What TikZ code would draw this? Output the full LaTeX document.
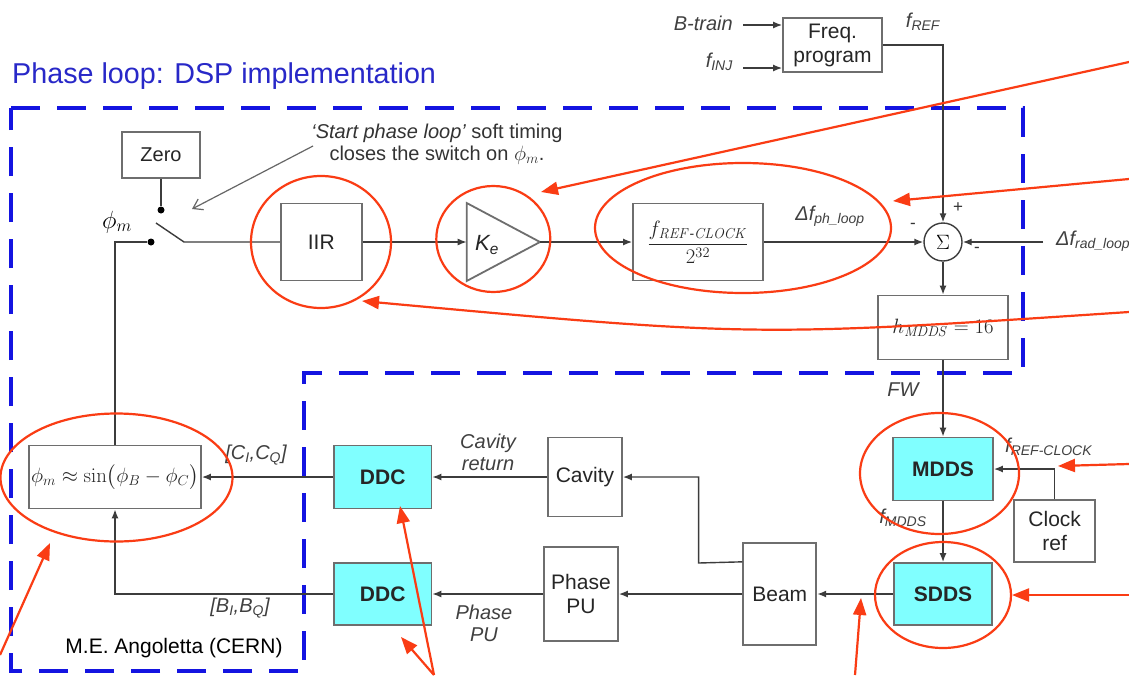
\documentclass[tikz,border=0pt]{standalone}
\usepackage{amsmath}
\usepackage[no-math]{fontspec}
\setmainfont{Liberation Sans}
\usetikzlibrary{arrows.meta,calc}
\definecolor{dblue}{RGB}{20,20,225}
\definecolor{tblue}{RGB}{40,40,200}
\definecolor{rred}{RGB}{250,60,20}
\definecolor{cyanf}{RGB}{128,255,255}
\definecolor{bordg}{RGB}{110,110,110}
\definecolor{wireg}{RGB}{60,60,60}
\begin{document}
\begin{tikzpicture}[x=1pt,y=-1pt,
 box/.style={draw=bordg, line width=1.8pt, fill=white, inner sep=0pt, align=center, font=\fontsize{21}{24}\selectfont, text=black!85},
 cbox/.style={box, fill=cyanf, font=\fontsize{21}{24}\selectfont\bfseries},
 wire/.style={draw=wireg, line width=1.4pt},
 arr/.style={wire, -{Latex[length=9pt,width=7pt]}},
 lbl/.style={font=\fontsize{20}{22}\selectfont\itshape, text=black!75, inner sep=0pt, align=center},
 sgn/.style={font=\fontsize{17}{18}\selectfont, text=black!80, inner sep=0pt},
 dotn/.style={circle, fill=black, inner sep=0pt, minimum size=7pt},
 ann/.style={draw=rred, line width=2.2pt},
 rarr/.style={ann, -{Triangle[length=17pt,width=13pt]}},
 ]
\useasboundingbox (0,0) rectangle (1129,675);
\fill[white] (0,0) rectangle (1129,675);

% DSP region
\draw[dblue, line width=4.5pt, dash pattern=on 29pt off 17pt]
  (11,108) -- (1023,108) -- (1023,373) -- (304,373) -- (304,671) -- (11,671) -- cycle;
\node[anchor=west, text=tblue, font=\fontsize{28.7}{32}\selectfont, inner sep=0pt] (title) at (12,76) {Phase loop: DSP implementation};

% top: frequency program
\node[box, minimum width=99pt, minimum height=54pt] (freq) at (832.5,45) {Freq.\\program};
\coordinate (bt) at (743,25);
\coordinate (fi) at (743,68);
\node[lbl, anchor=east] (btl) at (733,23) {B-train};
\node[lbl, anchor=east] (fil) at (733,62) {f\textsubscript{INJ}};
\draw[arr] (bt) -- (freq.west|-bt);
\draw[arr] (fi) -- (freq.west|-fi);
\node[lbl] (frefl) at (923,22) {f\textsubscript{REF}};

% summing junction
\node[draw=wireg, line width=1.4pt, circle, minimum size=38pt, inner sep=0pt, fill=white] (sig) at (943,242) {\fontsize{20}{20}\selectfont$\Sigma$};
\draw[arr] (freq.east) -| (sig.north);
\node[sgn] (plus) at (958,208) {+};
\node[sgn] (m1) at (913,226) {-};
\node[sgn] (m2) at (977,250) {-};
\node[lbl] (phl) at (830,216) {Δf\textsubscript{ph\_loop}};
\coordinate (radin) at (1043,242);
\node[lbl, anchor=west] (radl) at (1056,241) {Δf\textsubscript{rad\_loop}};
\draw[arr] (radin) -- (sig.east);

% forward chain
\node[box, minimum width=81pt, minimum height=77pt] (iir) at (321.3,242) {IIR};
\coordinate (keT) at (466.7,203);
\coordinate (keB) at (466.7,281);
\coordinate (keP) at (540,242);
\coordinate (keW) at (466.7,242);
\draw[draw=bordg, line width=1.8pt, fill=white] (keT) -- (keP) -- (keB) -- cycle;
\node[font=\fontsize{22}{24}\selectfont\itshape, text=black!85] (kel) at (487,245) {K\textsubscript{e}};
\node[box, minimum width=130pt, minimum height=77pt] (fclk) at (698,242) {\fontsize{20}{22}\selectfont$\displaystyle\frac{f_{\mathit{REF}\text{-}\mathit{CLOCK}}}{2^{32}}$};
\node[box, minimum width=130pt, minimum height=64pt, font=\fontsize{20}{22}\selectfont] (hbox) at (943,327.5) {$h_{\mathit{MDDS}}=16$};

% switch
\node[box, minimum width=78pt, minimum height=46pt, font=\fontsize{20}{22}\selectfont] (zero) at (161,155) {Zero};
\node[dotn] (dotA) at (161,210) {};
\node[dotn] (dotB) at (151,242) {};
\coordinate (sw1) at (156,223);
\coordinate (sw2) at (184,242);
\draw[wire] (zero.south) -- (dotA);
\draw[wire] (sw1) -- (sw2) -- (iir.west);
\node[font=\fontsize{24}{24}\selectfont] (phil) at (117,222) {$\phi_m$};

\draw[arr] (iir.east) -- (keW);
\draw[arr] (keP) -- (fclk.west);
\draw[arr] (fclk.east) -- (sig.west);
\draw[arr] (sig.south) -- (hbox.north);

% annotation text
\node[font=\fontsize{20}{22}\selectfont, text=black!80, align=center] (note) at (437,144) {{\itshape ‘Start phase loop’} soft timing\\closes the switch on $\phi_m$.};
\coordinate (noteA) at (313,146);
\coordinate (swtip) at (192,209);
\draw[draw=black!60, line width=1.2pt, -{Straight Barb[length=9pt,width=12pt]}] (noteA) -- (swtip);

% phase detector
\node[box, minimum width=172pt, minimum height=63pt, font=\fontsize{19.5}{21}\selectfont] (phi) at (115,477) {$\phi_m \approx \sin\bigl(\phi_B-\phi_C\bigr)$};
\draw[wire] (phi.north) |- (dotB);

% lower blocks
\node[cbox, minimum width=97.5pt, minimum height=63pt] (ddc1) at (382.7,477) {DDC};
\node[cbox, minimum width=97.5pt, minimum height=62pt] (ddc2) at (382.7,594) {DDC};
\node[box, minimum width=74pt, minimum height=79pt] (cav) at (585,477) {Cavity};
\node[box, minimum width=74pt, minimum height=94pt] (ppu) at (581,594) {Phase\\PU};
\node[box, minimum width=73pt, minimum height=102pt] (beam) at (779.8,594) {Beam};
\node[cbox, minimum width=100pt, minimum height=63pt] (mdds) at (943,469) {MDDS};
\node[cbox, minimum width=98pt, minimum height=62pt] (sdds) at (943,594) {SDDS};
\node[box, minimum width=81pt, minimum height=62pt] (clk) at (1054.7,531.3) {Clock\\ref};

\draw[arr] (hbox.south) -- (mdds.north);
\draw[arr] (clk.north) |- (mdds.east);
\draw[arr] (mdds.south) -- (sdds.north);
\draw[arr] (sdds.west) -- (beam.east);
\draw[arr] (beam.west) -- (ppu.east);
\coordinate (bcav) at ($(beam.north west)!0.19!(beam.south west)$);
\draw[arr] (bcav) -- (698.6,563) |- (cav.east);
\draw[arr] (cav.west) -- (ddc1.east);
\draw[arr] (ppu.west) -- (ddc2.east);
\draw[arr] (ddc1.west) -- (phi.east);
\draw[arr] (ddc2.west) -| (phi.south);

% labels
\node[lbl] (fwl) at (903,390) {FW};
\node[lbl, anchor=west] (fclkl) at (1005,447) {f\textsubscript{REF-CLOCK}};
\node[lbl] (fmddsl) at (903,518) {f\textsubscript{MDDS}};
\node[lbl] (cql) at (256,455) {[C\textsubscript{I},C\textsubscript{Q}]};
\node[lbl] (bql) at (240,608) {[B\textsubscript{I},B\textsubscript{Q}]};
\node[lbl] (cavl) at (488,452) {Cavity\\return};
\node[lbl] (ppul) at (484,623) {Phase\\PU};
\node[font=\fontsize{21}{24}\selectfont, text=black, inner sep=0pt] (auth) at (174,648) {M.E. Angoletta (CERN)};

% red annotations
\draw[ann] (321,242) ellipse [x radius=70, y radius=66];
\draw[ann] (493.3,239) ellipse [x radius=57, y radius=53];
\draw[ann] (743,228) ellipse [x radius=148, y radius=65];
\draw[ann] (116.5,477.5) ellipse [x radius=116, y radius=64];
\draw[ann] (939.5,473.5) ellipse [x radius=79.5, y radius=60.5];
\draw[ann] (943,595) ellipse [x radius=68, y radius=53];

\coordinate (ra) at (1129,62);   \coordinate (rat) at (541,192);
\coordinate (rb) at (1129,179);  \coordinate (rbt) at (893,201);
\coordinate (rc) at (1129,312);  \coordinate (rct) at (362,301);
\coordinate (rd) at (1129,464);  \coordinate (rdt) at (1058,466);
\coordinate (re) at (1129,595);  \coordinate (ret) at (1012,595);
\coordinate (rf) at (0,655);     \coordinate (rft) at (50,543);
\coordinate (rg) at (434,675);   \coordinate (rgt) at (400,506);
\coordinate (rh) at (434,675);   \coordinate (rht) at (401,637);
\coordinate (ri) at (855,675);   \coordinate (rit) at (861,598);
\draw[rarr] (ra) -- (rat);
\draw[rarr] (rb) -- (rbt);
\draw[rarr] (rc) .. controls (754,337) .. (rct);
\draw[rarr] (rd) -- (rdt);
\draw[rarr] (re) -- (ret);
\draw[rarr] (rf) -- (rft);
\draw[rarr] (rg) -- (rgt);
\draw[rarr] (rh) -- (rht);
\draw[rarr] (ri) -- (rit);
\end{tikzpicture}
\end{document}
